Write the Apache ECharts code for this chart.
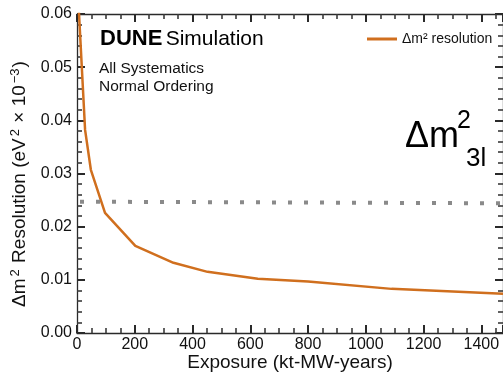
<!DOCTYPE html>
<html>
<head>
<meta charset="utf-8">
<script src="https://cdn.jsdelivr.net/npm/echarts@6/dist/echarts.min.js"></script>
<style>
  html, body { margin: 0; padding: 0; background: #fff; }
  #chart { width: 503px; height: 374px; }
</style>
</head>
<body>
<div id="chart"></div>
<script>
// Exposure (kt-MW-years) and the Δm² resolution (eV² × 10⁻³) at each exposure
const exposure = [3, 28, 48, 97, 202, 334, 452, 626, 800, 1089, 1475];
const resolution = [0.0642, 0.0382, 0.0307, 0.0226, 0.0164, 0.0132, 0.0115, 0.0102, 0.0097, 0.0083, 0.0074];

// Horizontal reference level (dotted)
const refExposure = [0, 1475];
const refLevel = [0.0247, 0.0244];

const xTicks = [0, 200, 400, 600, 800, 1000, 1200, 1400];
const yTicks = [0.00, 0.01, 0.02, 0.03, 0.04, 0.05, 0.06];

const FONT = 'Liberation Sans';
const ORANGE = '#d06f1e';
const INK = '#2a2a2a';

const chart = echarts.init(document.getElementById('chart'), null, { renderer: 'canvas' });

function axisFrame(splitNumber) {
  return {
    axisLine: { show: true, onZero: false, lineStyle: { color: INK, width: 1.3 } },
    axisTick: { show: true, inside: true, length: 8, lineStyle: { color: INK, width: 2 } },
    minorTick: { show: true, splitNumber, length: 5, lineStyle: { color: '#3a3a3a', width: 1.6 } },
    splitLine: { show: false }
  };
}

function xAxisDef(pos, showLabels) {
  return Object.assign({
    type: 'value', position: pos, min: 0, max: 1475, interval: 200,
    axisLabel: {
      show: showLabels, margin: 4, color: '#111', fontFamily: FONT, fontSize: 16,
      showMaxLabel: false, formatter: v => (xTicks.includes(v) ? String(v) : '')
    },
    name: showLabels ? 'Exposure (kt-MW-years)' : '',
    nameLocation: 'middle', nameGap: 20, nameMoveOverlap: false,
    nameTextStyle: { color: '#111', fontFamily: FONT, fontSize: 19 }
  }, axisFrame(4));
}

function yAxisDef(pos, showLabels) {
  return Object.assign({
    type: 'value', position: pos, min: 0, max: 0.06, interval: 0.01,
    axisLabel: {
      show: showLabels, margin: 5, color: '#111', fontFamily: FONT, fontSize: 16,
      formatter: v => {
        const t = yTicks.find(k => Math.abs(k - v) < 1e-9);
        return t === undefined ? '' : t.toFixed(2);
      }
    }
  }, axisFrame(5));
}

chart.setOption({
  animation: false,
  backgroundColor: '#fff',
  grid: { left: 77, right: 0, top: 14, bottom: 41, containLabel: false, outerBoundsMode: 'none' },
  xAxis: [xAxisDef('bottom', true), xAxisDef('top', false)],
  yAxis: [yAxisDef('left', true), yAxisDef('right', false)],
  legend: {
    left: 362, top: 27, itemWidth: 30, itemHeight: 3, itemGap: 10,
    icon: 'rect',
    textStyle: { fontFamily: FONT, fontSize: 14, color: '#111' },
    data: [{ name: 'Δm² resolution', itemStyle: { color: ORANGE } }]
  },
  series: [
    {
      name: 'Δm² resolution', type: 'line', xAxisIndex: 0, yAxisIndex: 0,
      data: exposure.map((x, i) => [x, resolution[i]]),
      showSymbol: false, symbol: 'none', clip: true,
      lineStyle: { color: ORANGE, width: 2.5 },
      itemStyle: { color: ORANGE }
    },
    {
      name: 'reference', type: 'line', xAxisIndex: 0, yAxisIndex: 0,
      data: refExposure.map((x, i) => [x, refLevel[i]]),
      showSymbol: false, symbol: 'none', silent: true,
      lineStyle: { color: '#8a8a8a', width: 4, type: [4, 12], cap: 'butt', dashOffset: -3 }
    }
  ],
  graphic: [
    {
      // vertical axis title
      type: 'text', x: 20, y: 184, rotation: Math.PI / 2,
      style: {
        text: '{t|Δm}{s|2}{t| Resolution (eV}{s|2}{t| × 10}{s|−3}{t|)}',
        align: 'center', verticalAlign: 'middle',
        rich: {
          t: { fontFamily: FONT, fontSize: 19, fill: '#111' },
          s: { fontFamily: FONT, fontSize: 13, fill: '#111', verticalAlign: 'top', padding: [0, 1, 9, 2] }
        }
      }
    },
    {
      type: 'text', left: 100, top: 28,
      style: {
        text: '{b|DUNE} {n|Simulation}',
        rich: {
          b: { fontFamily: FONT, fontSize: 22, fontWeight: 'bold', fill: '#000' },
          n: { fontFamily: FONT, fontSize: 21, fill: '#000' }
        }
      }
    },
    {
      type: 'text', left: 99, top: 59,
      style: { text: 'All Systematics\nNormal Ordering', fontFamily: FONT, fontSize: 15.5, lineHeight: 18.5, fill: '#111' }
    },
    { type: 'text', left: 405, top: 119, style: { text: 'Δm', fontFamily: FONT, fontSize: 36, fill: '#000' } },
    { type: 'text', left: 457, top: 109, style: { text: '2', fontFamily: FONT, fontSize: 25, fill: '#000' } },
    { type: 'text', left: 466, top: 146, style: { text: '3l', fontFamily: FONT, fontSize: 26, fill: '#000' } }
  ]
});
</script>
</body>
</html>
